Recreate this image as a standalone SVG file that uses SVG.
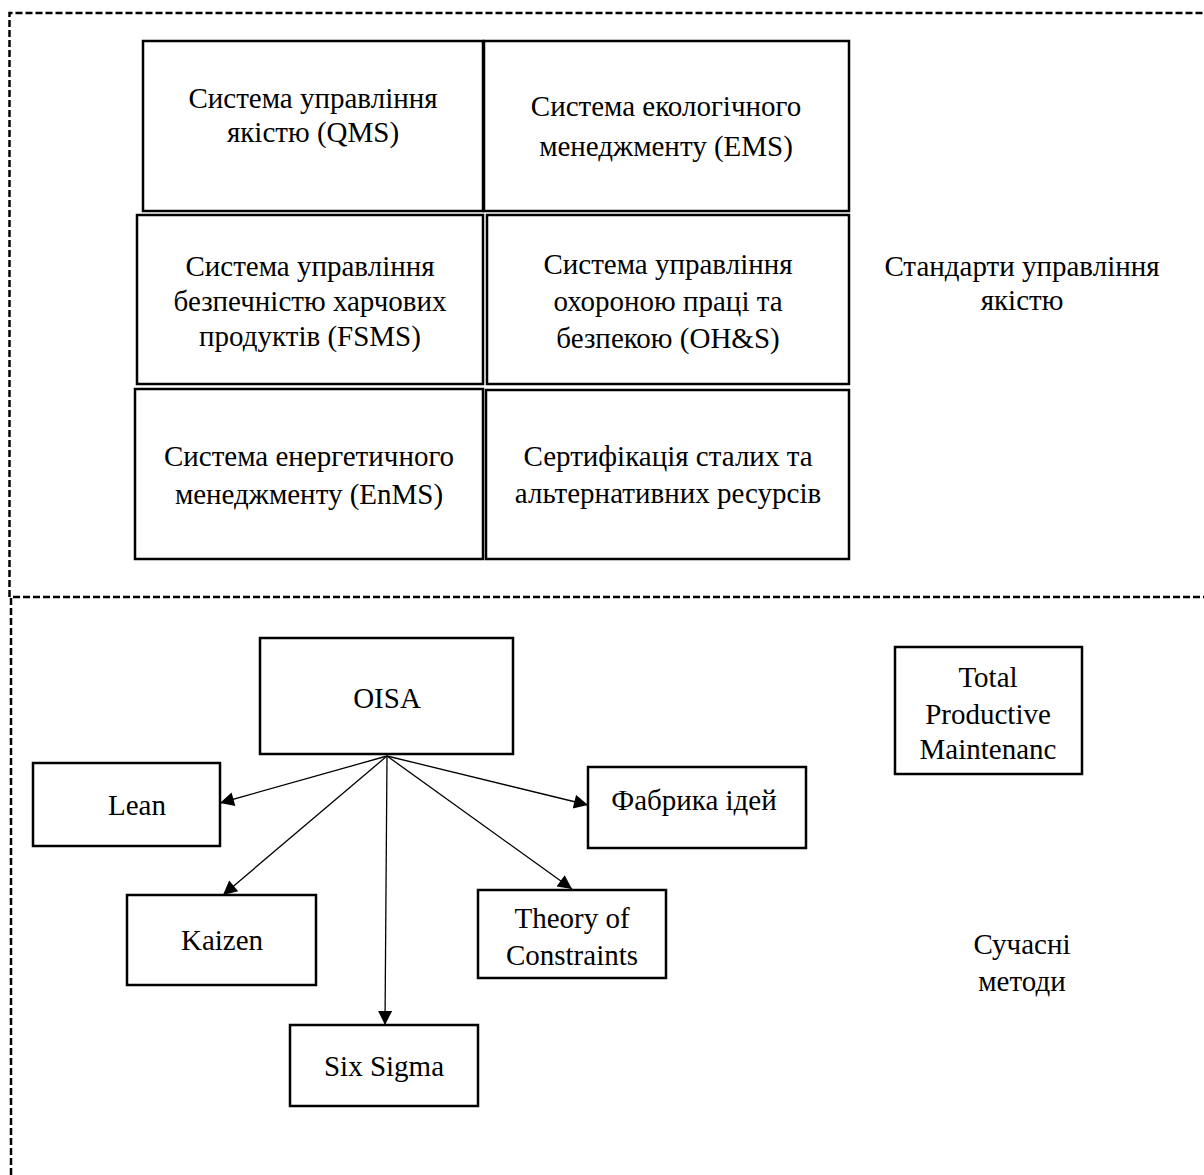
<svg xmlns="http://www.w3.org/2000/svg" width="1204" height="1175" viewBox="0 0 1204 1175">
<style>
.b{fill:#fff;stroke:#000;stroke-width:2.5}
.d{fill:none;stroke:#000;stroke-width:2.5;stroke-dasharray:7 3}
.t{font-family:"Liberation Serif","Times New Roman",serif;font-size:29px;fill:#000;text-anchor:middle}
.c{stroke:#000;stroke-width:1.3;fill:none;marker-end:url(#ah)}
</style>
<defs>
<marker id="ah" viewBox="0 0 10 10" refX="10" refY="5" markerWidth="17" markerHeight="14" markerUnits="userSpaceOnUse" orient="auto">
<path d="M0,0 L10,5 L0,10 z" fill="#000"/>
</marker>
</defs>
<rect width="1204" height="1175" fill="#fff"/>
<g id="frame">
<path class="d" d="M9.5,597 V13 H1204"/>
<path class="d" d="M11,1175 V597 H1204"/>
</g>
<g id="qms"><rect class="b" x="143" y="41" width="340" height="170"/><text class="t" x="313" y="108">Система управління</text><text class="t" x="313" y="142">якістю (QMS)</text></g>
<g id="ems"><rect class="b" x="484" y="41" width="365" height="170"/><text class="t" x="666" y="116">Система екологічного</text><text class="t" x="666" y="156">менеджменту (EMS)</text></g>
<g id="fsms"><rect class="b" x="137" y="215" width="346" height="169"/><text class="t" x="310" y="276">Система управління</text><text class="t" x="310" y="311">безпечністю харчових</text><text class="t" x="310" y="346">продуктів (FSMS)</text></g>
<g id="ohs"><rect class="b" x="487" y="215" width="362" height="169"/><text class="t" x="668" y="274">Система управління</text><text class="t" x="668" y="311">охороною праці та</text><text class="t" x="668" y="348">безпекою (OH&amp;S)</text></g>
<g id="enms"><rect class="b" x="135" y="389" width="348" height="170"/><text class="t" x="309" y="466">Система енергетичного</text><text class="t" x="309" y="504">менеджменту (EnMS)</text></g>
<g id="cert"><rect class="b" x="486" y="390" width="363" height="169"/><text class="t" x="668" y="466">Сертифікація сталих та</text><text class="t" x="668" y="503">альтернативних ресурсів</text></g>
<g id="std-label"><text class="t" x="1022" y="276">Стандарти управління</text><text class="t" x="1022" y="310">якістю</text></g>
<g id="oisa"><rect class="b" x="260" y="638" width="253" height="116"/><text class="t" x="387" y="708">OISA</text></g>
<g id="tpm"><rect class="b" x="895" y="647" width="187" height="127"/><text class="t" x="988" y="687">Total</text><text class="t" x="988" y="724">Productive</text><text class="t" x="988" y="759">Maintenanc</text></g>
<g id="lean"><rect class="b" x="33" y="763" width="187" height="83"/><text class="t" x="137" y="815">Lean</text></g>
<g id="fabryka"><rect class="b" x="588" y="767" width="218" height="81"/><text class="t" x="694" y="810">Фабрика ідей</text></g>
<g id="kaizen"><rect class="b" x="127" y="895" width="189" height="90"/><text class="t" x="222" y="950">Kaizen</text></g>
<g id="toc"><rect class="b" x="478" y="890" width="188" height="88"/><text class="t" x="572" y="928">Theory of</text><text class="t" x="572" y="965">Constraints</text></g>
<g id="sixsigma"><rect class="b" x="290" y="1025" width="188" height="81"/><text class="t" x="384" y="1076">Six Sigma</text></g>
<g id="modern-label"><text class="t" x="1022" y="954">Сучасні</text><text class="t" x="1022" y="991">методи</text></g>
<g id="connectors">
<line class="c" x1="387" y1="756" x2="220" y2="803"/>
<line class="c" x1="387" y1="756" x2="588" y2="805"/>
<line class="c" x1="387" y1="756" x2="223" y2="895"/>
<line class="c" x1="387" y1="756" x2="572" y2="889"/>
<line class="c" x1="387" y1="756" x2="385" y2="1025"/>
</g>
</svg>
